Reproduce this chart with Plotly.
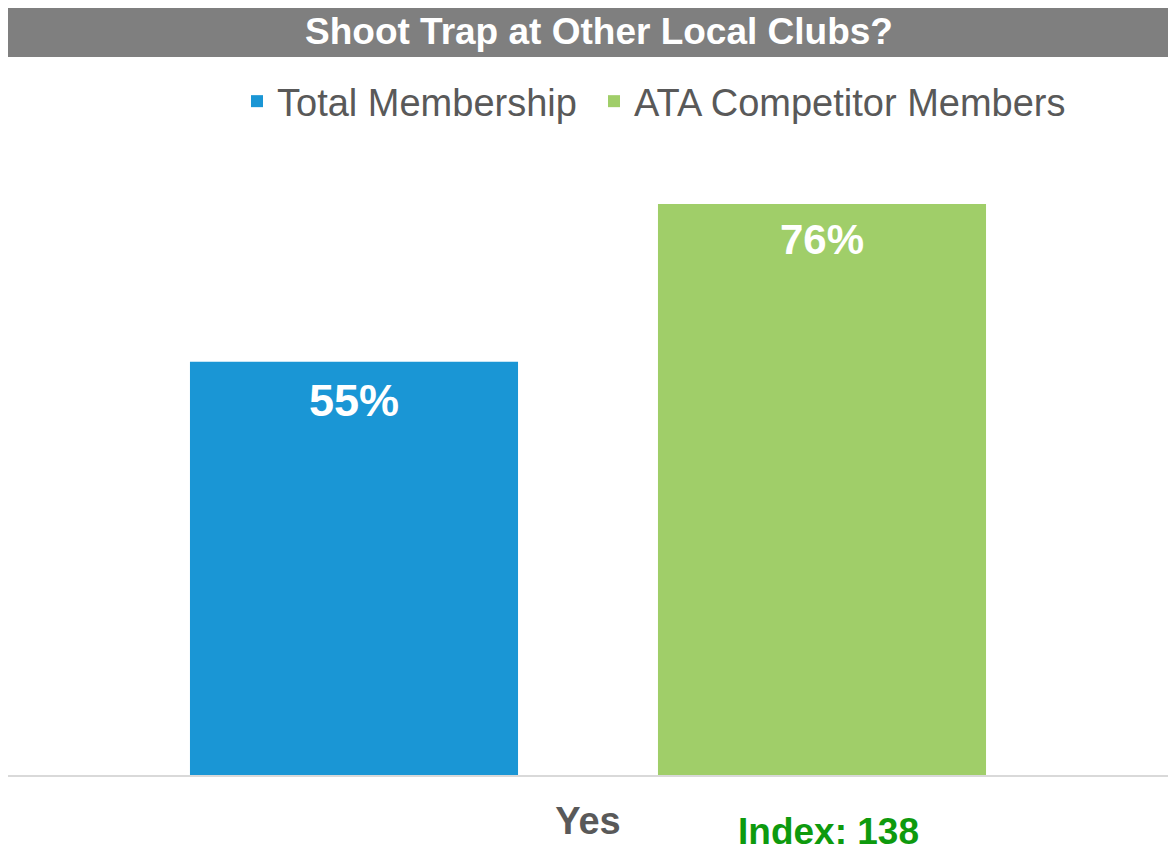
import plotly.graph_objects as go

categories = ["Yes"]
series_names = ["Total Membership", "ATA Competitor Members"]
total_membership = [55]
ata_competitors = [76]
value_labels_total = ["55%"]
value_labels_ata = ["76%"]
colors = ["#1A96D5", "#A0CE69"]
title_text = "Shoot Trap at Other Local Clubs?"
index_text = "Index: 138"

FONT = "Liberation Sans, Arial, sans-serif"

# Page has an 8px body margin: figure coordinates = reference pixels - 8
W, H = 1168, 845
T, B = 166, 78
PH = H - T - B          # 601
Y0 = H - B              # 767 (value 0)
XC = 580                # category centre in figure px
SLOT = 234              # offset of each bar centre from the category centre

fig = go.Figure()
fig.add_trace(go.Bar(
    x=categories, y=total_membership, name=series_names[0],
    marker=dict(color=colors[0], line=dict(width=0)), legend="legend",
))
fig.add_trace(go.Bar(
    x=categories, y=ata_competitors, name=series_names[1],
    marker=dict(color=colors[1], line=dict(width=0)), legend="legend2",
))

# value labels placed at data coordinates
for cat, val, lab, dx, size, dy in [
    (categories[0], total_membership[0], value_labels_total[0], -SLOT, 45, -39),
    (categories[0], ata_competitors[0], value_labels_ata[0], SLOT, 42, -35),
]:
    fig.add_annotation(x=cat, y=val, xref="x", yref="y", text="<b>" + lab + "</b>",
                       xshift=dx, yshift=dy, showarrow=False,
                       xanchor="center", yanchor="middle",
                       font=dict(family=FONT, size=size, color="white"))

legend_common = dict(orientation="h", xanchor="left", y=1.1207, yanchor="middle",
                     font=dict(family=FONT, size=38, color="#595959"),
                     bgcolor="rgba(0,0,0,0)", itemclick=False)

fig.update_layout(
    width=W, height=H,
    margin=dict(l=0, r=0, t=T, b=B, pad=0),
    paper_bgcolor="white", plot_bgcolor="white",
    barmode="group", bargap=1 - 4 * SLOT / W, bargroupgap=0.299,
    showlegend=True,
    legend=dict(x=229 / W, **legend_common),
    legend2=dict(x=586 / W, **legend_common),
)
fig.update_xaxes(
    range=[-XC / W, (W - XC) / W],
    showline=True, linecolor="#D9D9D9", linewidth=2,
    tickfont=dict(family=FONT, size=38, color="#595959", weight="bold"),
    ticks="", showgrid=False, ticklabelstandoff=11,
)
fig.update_yaxes(range=[0, 80], visible=False, showgrid=False)

# Title bar
fig.add_shape(type="rect", xref="paper", yref="paper",
              x0=0, x1=1.0, y0=(775 - 57) / PH, y1=(775 - 4) / PH,
              fillcolor="#7F7F7F", line=dict(width=0), layer="above")
fig.add_annotation(text="<b>" + title_text + "</b>", xref="paper", yref="paper",
                   x=(599 - 8) / W, y=(775 - 31) / PH, xanchor="center", yanchor="middle",
                   showarrow=False, font=dict(family=FONT, size=37, color="white"))
fig.add_annotation(text="<b>" + index_text + "</b>", xref="paper", yref="paper",
                   x=(828 - 8) / W, y=(775 - 831) / PH, xanchor="center", yanchor="middle",
                   showarrow=False, font=dict(family=FONT, size=37, color="#0E9A0E"))

fig.write_html("out.html")
